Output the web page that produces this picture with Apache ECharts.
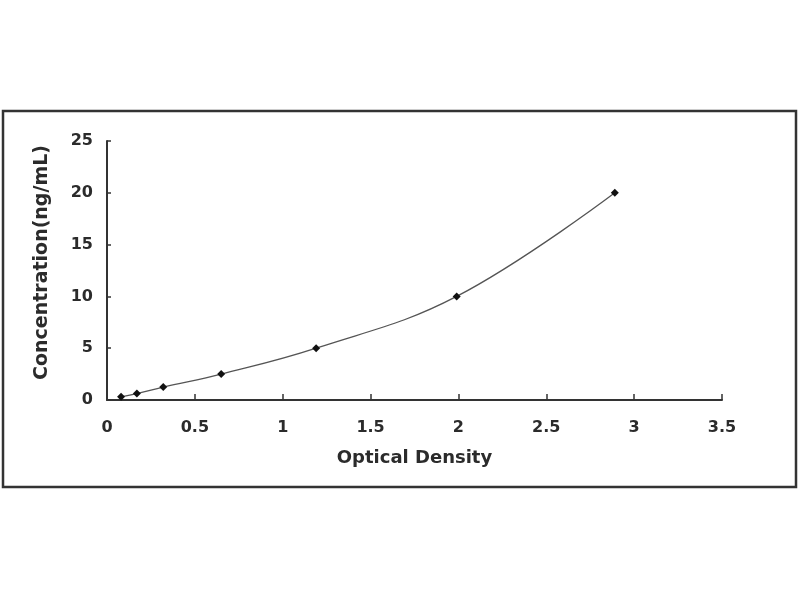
<!DOCTYPE html>
<html>
<head>
<meta charset="utf-8">
<script src="https://cdn.jsdelivr.net/npm/echarts@6/dist/echarts.min.js"></script>
<style>html,body{margin:0;padding:0;background:#fff}#c{width:800px;height:600px}</style>
</head>
<body>
<div id="c"></div>
<script>
const odValues = [0.08, 0.17, 0.32, 0.65, 1.19, 1.99, 2.89];
const concValues = [0.31, 0.625, 1.25, 2.5, 5, 10, 20];
const xTicks = [0, 0.5, 1, 1.5, 2, 2.5, 3, 3.5];
const yTicks = [0, 5, 10, 15, 20, 25];
const xTitle = 'Optical Density';
const yTitle = 'Concentration(ng/mL)';

const chart = echarts.init(document.getElementById('c'));
const font = { fontFamily: 'DejaVu Sans', fontWeight: 'bold', fontSize: 16, color: '#2b2b2b' };
chart.setOption({
  animation: false,
  backgroundColor: '#fff',
  graphic: [{
    type: 'rect', shape: { x: 3, y: 111, width: 793, height: 376 },
    style: { fill: 'none', stroke: '#333', lineWidth: 2.5 }
  }],
  grid: { left: 107, right: 78, top: 141, bottom: 200 },
  xAxis: {
    type: 'value', min: xTicks[0], max: xTicks[xTicks.length - 1], interval: 0.5,
    name: xTitle, nameLocation: 'middle', nameGap: 49,
    nameTextStyle: Object.assign({}, font, { fontSize: 18 }),
    axisLine: { lineStyle: { color: '#333', width: 2 } },
    axisTick: { inside: true, length: 6, lineStyle: { color: '#333', width: 1.5 } },
    axisLabel: Object.assign({ margin: 20 }, font),
    splitLine: { show: false }
  },
  yAxis: {
    type: 'value', min: yTicks[0], max: yTicks[yTicks.length - 1], interval: 5,
    name: yTitle, nameLocation: 'middle', nameGap: 55, nameRotate: 90,
    nameTextStyle: Object.assign({}, font, { fontSize: 19, padding: [0, 0, 0, 16] }),
    axisLine: { show: true, lineStyle: { color: '#333', width: 2 } },
    axisTick: { show: true, inside: true, length: 4, lineStyle: { color: '#333', width: 1.5 } },
    axisLabel: Object.assign({ margin: 14 }, font),
    splitLine: { show: false }
  },
  series: [{
    type: 'line',
    data: odValues.map((v, i) => [v, concValues[i]]),
    smooth: 0.4,
    symbol: 'diamond', symbolSize: 8,
    itemStyle: { color: '#111' },
    lineStyle: { color: '#555', width: 1.3 }
  }]
});
</script>
</body>
</html>
